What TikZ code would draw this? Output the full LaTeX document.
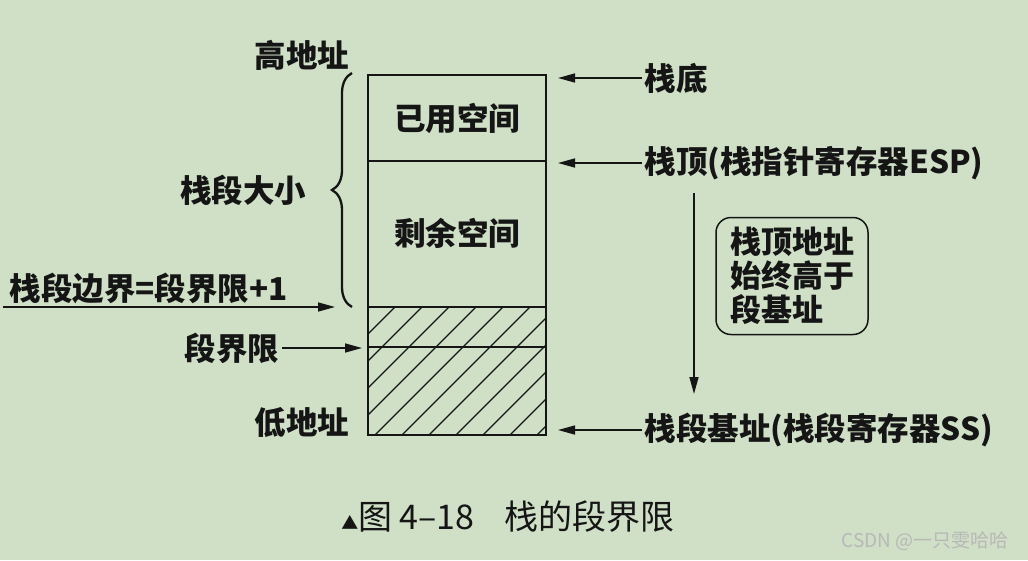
\documentclass[tikz,border=0pt]{standalone}
\usepackage{fontspec}
\setmainfont{Noto Sans CJK SC}
\usetikzlibrary{arrows.meta,decorations.pathreplacing}
\definecolor{paper}{RGB}{207,224,198}
\definecolor{ink}{HTML}{151515}

\begin{document}
\begin{tikzpicture}[x=1pt, y=-1pt, line width=1.5pt, ink,
  lbl/.style={font=\fontsize{31.5}{34}\selectfont\bfseries, inner sep=2pt},
  arr/.style={-{Triangle[length=17pt,width=9pt]}},
  note/.style={draw, rounded corners=15pt, align=left, inner sep=0pt,
    minimum width=152pt, minimum height=117pt,
    font=\fontsize{31}{34}\selectfont\bfseries}]
  \fill[paper] (0,0) rectangle (1028,560);
  \useasboundingbox (0,0) rectangle (1028,560);
  % the stack segment
  \draw (368,75) rectangle (546,435);
  \draw (368,161) -- (546,161);
  \draw (368,307) -- (546,307);
  \draw (368,347) -- (546,347);
  \begin{scope}
    \clip (368,307) rectangle (546,435);
    \foreach \x in {0,...,11} \draw[line width=1.2pt] (240+\x*27,435) -- ++(128,-128);
  \end{scope}
  \node[lbl] (used) at (457,118) {已用空间};
  \node[lbl] (free) at (457,233) {剩余空间};
  \coordinate (sbot) at (558,78);
  \coordinate (stop) at (558,163);
  \coordinate (sbase) at (558,430);
  \coordinate (lim) at (362,348);
  \coordinate (bnd) at (335,307);
  \coordinate (bndstart) at (3,307);
  % left side labels
  \node[lbl] (hi) at (302,55) {高地址};
  \node[lbl] (size) at (243,190) {栈段大小};
  \node[lbl, anchor=west] (edge) at (7,288) {栈段边界=段界限+1};
  \node[lbl, anchor=east] (limlbl) at (282,348) {段界限};
  \node[lbl] (lo) at (302,423) {低地址};
  \draw[line width=2.3pt, decorate, decoration={brace, amplitude=20pt}] (352,307) -- (352,73);
  \draw[arr] (bndstart) -- (bnd);
  \draw[arr] (limlbl.east) -- (lim);
  % right side labels
  \node[lbl, anchor=west] (bottom) at (642,78) {栈底};
  \node[lbl, anchor=west] (top) at (642,163) {栈顶(栈指针寄存器ESP)};
  \node[lbl, anchor=west] (base) at (642,430) {栈段基址(栈段寄存器SS)};
  \draw[arr] (bottom.west) -- (sbot);
  \draw[arr] (top.west) -- (stop);
  \draw[arr] (base.west) -- (sbase);
  \coordinate (grow) at (694,193);
  \coordinate (growend) at (694,394);
  \draw[arr] (grow) -- (growend);
  \node[note] (rule) at (792,276) {栈顶地址\\始终高于\\段基址};
  % caption
  \node[font=\fontsize{34}{36}\selectfont] (cap) at (508,517) {{\fontsize{17}{17}\selectfont ▲}图 4–18\hspace{30pt}栈的段界限};
  \node[font=\fontsize{19}{22}\selectfont, white!72!black] (mark) at (925,541) {CSDN @一只雯哈哈};
\end{tikzpicture}
\end{document}
